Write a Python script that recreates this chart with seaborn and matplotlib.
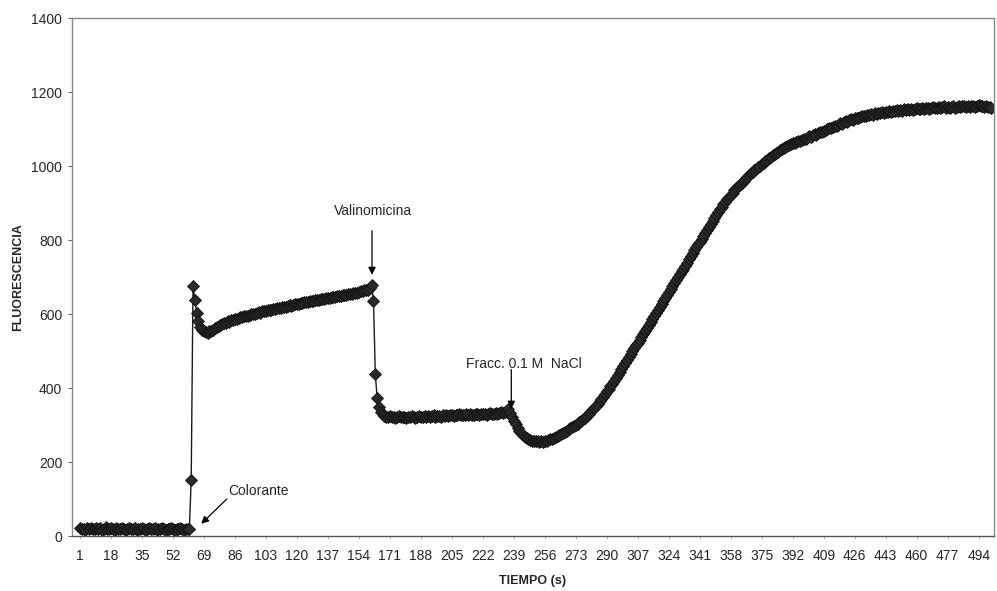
import numpy as np
import pandas as pd
import matplotlib
matplotlib.use("Agg")
import matplotlib.pyplot as plt
import seaborn as sns

# Fluorescence trace, one reading per second (segments split at each addition)
baseline = [22, 18, 20, 17, 21, 19, 23, 18, 20, 22,
            19, 21, 17, 20, 24, 19, 18, 21, 20, 17,
            22, 20, 18, 21, 19, 16, 20, 23, 19, 18,
            21, 17, 20, 19, 22, 18, 16, 20, 21, 18,
            19, 22, 17, 20, 18, 21, 19, 16, 20, 18,
            21, 19, 17, 20, 18, 22, 19, 17, 20, 18,
            19]
dye_spike = [152, 676, 638, 604, 580, 566, 558, 553, 551, 550]
plateau_dye = [553, 555, 558, 561, 565, 567, 570, 573, 575,
               577, 580, 579, 583, 585, 587, 586, 590, 592, 591,
               594, 596, 595, 598, 600, 601, 600, 603, 605, 604,
               607, 608, 607, 610, 612, 611, 614, 613, 616, 617,
               616, 619, 620, 619, 622, 624, 623, 625, 627, 626,
               628, 630, 629, 632, 633, 632, 634, 636, 635, 637,
               638, 637, 640, 641, 640, 643, 644, 643, 646, 647,
               646, 648, 650, 649, 651, 652, 651, 654, 655, 654,
               657, 658, 657, 660, 662, 661, 664, 666, 665, 670,
               678]
valino_drop = [635, 437, 374, 350, 336, 329, 325]
plateau_valino = [323, 322, 324, 321, 323, 320, 322, 324, 321, 323, 322, 320,
                  323, 321, 324, 322, 320, 323, 325, 322, 321, 324,
                  323, 325, 322, 324, 326, 323, 325, 324, 322, 326,
                  325, 327, 324, 326, 328, 325, 327, 326, 329, 327,
                  328, 326, 329, 327, 330, 328, 326, 329, 331, 328,
                  330, 329, 331, 328, 330, 332, 329, 331, 333, 330,
                  332, 334, 333, 336, 339, 342]
nacl_dip = [332, 322, 312, 302, 293, 285, 278, 272, 268, 264, 262, 260, 258, 257,
            257, 256, 255, 256, 255, 256, 257, 259, 261, 263, 266, 268]
recovery = [271, 273, 276, 279, 282, 285, 288, 291,
            294, 297, 301, 304, 308, 312, 316, 320, 325, 330,
            335, 340, 346, 352, 358, 364, 371, 377, 384, 391,
            398, 405, 412, 420, 427, 435, 443, 451, 459, 467,
            475, 483, 491, 499, 507, 515, 523, 531, 539, 547,
            555, 563, 571, 579, 587, 595, 603, 611, 619, 627,
            635, 643, 651, 659, 667, 675, 683, 691, 699, 707,
            715, 723, 731, 739, 748, 756, 764, 772, 780, 788,
            796, 804, 812, 820, 828, 836, 844, 852, 860, 868,
            876, 883, 890, 897, 904, 910, 916, 922, 928, 934,
            940, 945, 950, 955, 960, 965, 970, 975, 980, 985,
            989, 993, 997, 1001, 1005, 1009, 1013, 1017, 1021, 1025,
            1029, 1032, 1036, 1039, 1042, 1045, 1048, 1051, 1054, 1057,
            1059, 1062, 1061, 1065, 1068, 1067, 1071, 1074, 1073, 1077,
            1080, 1079, 1083, 1086, 1085, 1089, 1092, 1091, 1095, 1098,
            1100, 1103, 1102, 1106, 1109, 1108, 1112, 1115, 1114, 1118,
            1121, 1120, 1124, 1126, 1125, 1129, 1130, 1129, 1133, 1134,
            1136, 1135, 1138, 1137, 1140, 1139, 1142, 1141, 1144, 1143,
            1146, 1144, 1147, 1145, 1148, 1146, 1149, 1148, 1151, 1149,
            1152, 1150, 1153, 1151, 1154, 1152, 1155, 1152, 1154, 1156,
            1153, 1155, 1157, 1154, 1156, 1158, 1155, 1157, 1159, 1156,
            1158, 1160, 1157, 1159, 1161, 1158, 1160, 1157, 1159, 1161,
            1158, 1160, 1162, 1159, 1161, 1163, 1160, 1162, 1159, 1161,
            1163, 1160, 1162, 1164, 1161, 1163, 1160, 1162, 1159, 1160,
            1158]

tick_labels = [1, 18, 35, 52, 69, 86, 103, 120, 137, 154, 171, 188, 205, 222, 239,
               256, 273, 290, 307, 324, 341, 358, 375, 392, 409, 426, 443, 460, 477, 494]
y_ticks = [0, 200, 400, 600, 800, 1000, 1200, 1400]

fluor = baseline + dye_spike + plateau_dye + valino_drop + plateau_valino + nacl_dip + recovery
df = pd.DataFrame({"tiempo": np.arange(1, len(fluor) + 1), "fluorescencia": fluor})

sns.set_theme(style="white")
plt.rcParams["font.family"] = ["Liberation Sans", "DejaVu Sans"]

fig = plt.figure(figsize=(9.97, 5.91), dpi=100)
ax = fig.add_axes([0.0722, 0.093, 0.9248, 0.8765])

sns.lineplot(data=df, x="tiempo", y="fluorescencia", ax=ax, color="#1a1a1a",
             linewidth=1.0, marker="D", markersize=5.8, markeredgecolor="#111111",
             markerfacecolor="#2a2a2a", markeredgewidth=0.6)

ax.set_xlim(-3.4, 502.4)
ax.set_ylim(0, 1400)
ax.set_xticks(tick_labels)
ax.set_xticklabels([str(t) for t in tick_labels], fontsize=10)
ax.set_yticks(y_ticks)
ax.set_yticklabels([str(t) for t in y_ticks], fontsize=10)
ax.tick_params(axis="x", direction="out", length=2, width=0.6, color="#aaaaaa",
               bottom=True, pad=7)
ax.tick_params(axis="y", direction="out", length=3, width=0.8, color="#666666",
               left=True, pad=4)
for s in ax.spines.values():
    s.set_color("#888888")
    s.set_linewidth(1.0)
ax.spines["bottom"].set_color("#555555")

ax.set_xlabel("TIEMPO (s)", fontsize=9, fontweight="bold", labelpad=9)
ax.set_ylabel("FLUORESCENCIA", fontsize=9, fontweight="bold", labelpad=5)

arrow = dict(arrowstyle="-|>", color="black", lw=0.9, mutation_scale=11,
             shrinkA=0, shrinkB=0)

# Dye addition
ax.text(82.5, 122, "Colorante", fontsize=10, ha="left", va="center")
ax.annotate("", xy=(67.5, 33), xytext=(81.5, 100), arrowprops=arrow)

# Valinomycin addition
ax.text(161.5, 879, "Valinomicina", fontsize=10, ha="center", va="center")
ax.annotate("", xy=(161.2, 706), xytext=(161.2, 825), arrowprops=arrow)

# NaCl fraction
ax.text(213, 464, "Fracc. 0.1 M  NaCl", fontsize=10, ha="left", va="center")
ax.annotate("", xy=(237.6, 344), xytext=(237.6, 450), arrowprops=arrow)

fig.savefig("out.png", dpi=100, facecolor="white")
